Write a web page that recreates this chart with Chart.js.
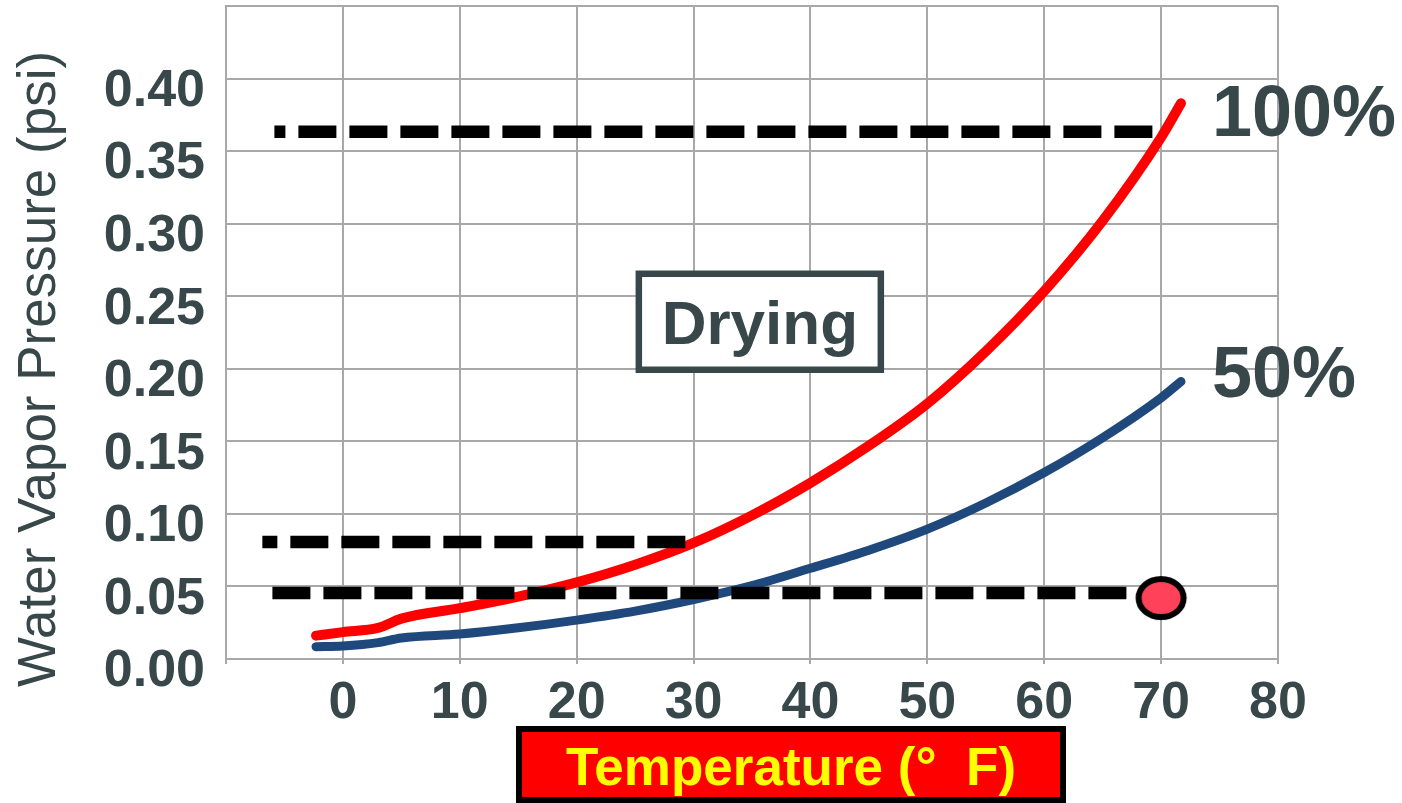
<!DOCTYPE html>
<html>
<head>
<meta charset="utf-8">
<script src="https://cdn.jsdelivr.net/npm/chart.js@4.4.1/dist/chart.umd.min.js"></script>
<style>
  html, body { margin: 0; padding: 0; background: #fff; }
  #wrap { width: 1402px; height: 803px; }
</style>
</head>
<body>
<div id="wrap"><canvas id="vaporChart" width="1402" height="803"></canvas></div>
<script>
// curve data (deg F -> psi)
const temps = [-2.3, 0, 3, 5, 10, 15, 20, 25, 30, 35, 40, 45, 50, 55, 60, 65, 70, 71.7];
const rh100 = [0.0161, 0.0185, 0.0214, 0.0278, 0.035, 0.043, 0.0528, 0.065, 0.080, 0.099, 0.1214, 0.147, 0.176, 0.212, 0.2535, 0.302, 0.3595, 0.383];
const rh50 = [0.0085, 0.009, 0.0113, 0.0145, 0.0172, 0.0215, 0.0268, 0.033, 0.041, 0.0505, 0.0625, 0.075, 0.0895, 0.1075, 0.1285, 0.1525, 0.180, 0.1912];

// dashed reference levels
const dashLevels = [0.3634, 0.0807, 0.0455];
const dashFrom = [-5.86, -6.89, -6.03];
const dashTo = [69.6, 29.38, 67.3];
const dashPhase = [27, 23, 0];

// 70 F room marker
const markerTemp = [70];
const markerPressure = [0.042];

const curveLabels = ['100%', '50%'];
const xTitle = 'Temperature (\u00b0  F)';
const yTitle = 'Water Vapor Pressure (psi)';
const boxLabel = 'Drying';

const textColor = '#37474a';
const gridColor = '#a8a8a8';
const fontName = '"Liberation Sans", Arial, sans-serif';

const toPoints = (xs, ys) => xs.map((x, i) => ({ x: x, y: ys[i] }));

// ellipse marker drawn once, used as point style
const marker = document.createElement('canvas');
marker.width = 56;
marker.height = 50;
(function () {
  const c = marker.getContext('2d');
  c.beginPath();
  c.ellipse(28, 25, 22.5, 19, 0, 0, Math.PI * 2);
  c.fillStyle = '#ff4259';
  c.fill();
  c.lineWidth = 6;
  c.strokeStyle = '#000';
  c.stroke();
})();

const datasets = [
  {
    label: curveLabels[0],
    data: toPoints(temps, rh100),
    borderColor: '#ff0000',
    borderWidth: 10,
    borderCapStyle: 'round',
    cubicInterpolationMode: 'monotone',
    pointRadius: 0,
    order: 3
  },
  {
    label: curveLabels[1],
    data: toPoints(temps, rh50),
    borderColor: '#1f497d',
    borderWidth: 9,
    borderCapStyle: 'round',
    cubicInterpolationMode: 'monotone',
    pointRadius: 0,
    order: 3
  }
];

dashLevels.forEach((lvl, i) => {
  datasets.push({
    label: 'level' + i,
    data: [{ x: dashFrom[i], y: lvl }, { x: dashTo[i], y: lvl }],
    borderColor: '#000',
    borderWidth: 12.5,
    borderDash: [38, 13],
    borderDashOffset: dashPhase[i],
    borderCapStyle: 'butt',
    pointRadius: 0,
    tension: 0,
    order: 2
  });
});

// image point style: radius only affects layout overflow, keep it small
datasets.push({
  label: 'room',
  data: toPoints(markerTemp, markerPressure),
  showLine: false,
  pointStyle: marker,
  pointRadius: 4,
  pointBorderWidth: 0,
  order: 1
});

const annotations = {
  id: 'annotations',
  beforeDatasetsDraw(chart) {
    const { ctx, scales } = chart;
    const x = scales.x, y = scales.y;
    // Drying box
    const cx = x.getPixelForValue(35.67);
    const cy = y.getPixelForValue(0.2324);
    ctx.save();
    ctx.fillStyle = '#fff';
    ctx.strokeStyle = textColor;
    ctx.lineWidth = 6.5;
    ctx.fillRect(cx - 121, cy - 48, 242, 96);
    ctx.strokeRect(cx - 121, cy - 48, 242, 96);
    ctx.fillStyle = textColor;
    ctx.font = 'bold 62px ' + fontName;
    ctx.textAlign = 'center';
    ctx.textBaseline = 'alphabetic';
    ctx.fillText(boxLabel, cx, cy + 22);
    ctx.restore();
  },
  afterDraw(chart) {
    const { ctx } = chart;
    ctx.save();
    // curve end labels
    ctx.fillStyle = textColor;
    ctx.font = 'bold 72px ' + fontName;
    ctx.textAlign = 'left';
    ctx.textBaseline = 'alphabetic';
    [0, 1].forEach(i => {
      const meta = chart.getDatasetMeta(i);
      const last = meta.data[meta.data.length - 1];
      const dy = i === 0 ? 33 : 15;
      ctx.fillText(curveLabels[i], last.x + 31, last.y + dy);
    });
    // y axis title
    ctx.save();
    ctx.translate(55, 369);
    ctx.rotate(-Math.PI / 2);
    ctx.font = '53px ' + fontName;
    ctx.textAlign = 'center';
    ctx.fillText(yTitle, 0, 0);
    ctx.restore();
    // x axis title box
    const bx = 519, by = 729, bw = 544, bh = 71;
    ctx.fillStyle = '#ff0000';
    ctx.fillRect(bx, by, bw, bh);
    ctx.lineWidth = 6;
    ctx.strokeStyle = '#000';
    ctx.strokeRect(bx, by, bw, bh);
    ctx.fillStyle = '#ffff00';
    ctx.font = 'bold 53px ' + fontName;
    ctx.textAlign = 'center';
    ctx.fillText(xTitle, bx + bw / 2, 785);
    ctx.restore();
  }
};

const ctx = document.getElementById('vaporChart').getContext('2d');
const vaporChart = new Chart(ctx, {
  type: 'line',
  data: { datasets: datasets },
  options: {
    responsive: false,
    animation: false,
    devicePixelRatio: 1,
    layout: { padding: { left: 0, right: 124, top: 6, bottom: 0 } },
    scales: {
      x: {
        type: 'linear',
        min: -10,
        max: 80,
        grid: { color: gridColor, lineWidth: 2, tickLength: 5, tickColor: gridColor },
        border: { color: gridColor, width: 2 },
        ticks: {
          stepSize: 10,
          padding: 8,
          color: textColor,
          font: { family: fontName, size: 52, weight: 'bold' },
          maxRotation: 0,
          autoSkip: false,
          callback: v => (v < 0 ? '' : v)
        },
        afterFit: s => {
          s.height = 144;
          s.paddingLeft = 0;
          s.paddingRight = 0;
        }
      },
      y: {
        min: 0,
        max: 0.45,
        grid: { color: gridColor, lineWidth: 2, drawTicks: false },
        border: { color: gridColor, width: 2 },
        ticks: {
          stepSize: 0.05,
          padding: 21,
          labelOffset: 13,
          color: textColor,
          font: { family: fontName, size: 52, weight: 'bold' },
          autoSkip: false,
          callback: v => (v > 0.44 ? '' : v.toFixed(2))
        },
        afterFit: s => {
          s.width = 226;
          s.paddingTop = 0;
          s.paddingBottom = 0;
        }
      }
    },
    plugins: {
      legend: { display: false },
      tooltip: { enabled: false }
    }
  },
  plugins: [annotations]
});
</script>
</body>
</html>
